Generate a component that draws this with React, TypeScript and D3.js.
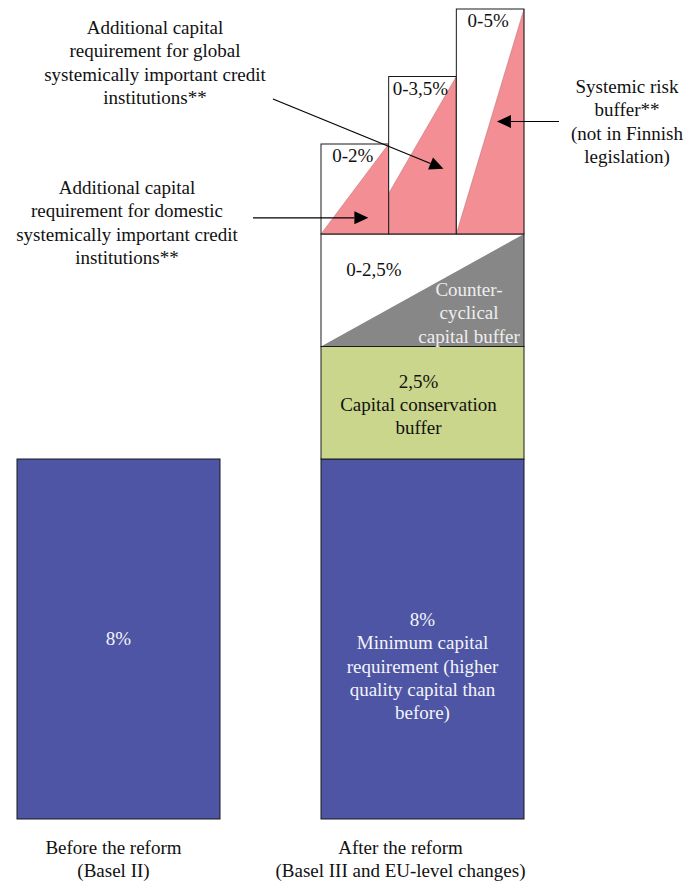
import React from 'react';
import * as d3 from 'd3';

// bars
const categories = ['Before the reform', 'After the reform'];
const categorySub = ['(Basel II)', '(Basel III and EU-level changes)'];
const minimumCapital = [8, 8];
const minimumLabels = [['8%'], ['8%', 'Minimum capital', 'requirement (higher', 'quality capital than', 'before)']];

// buffers stacked on the "after" bar
const conservationBuffer = 2.5;
const conservationLabel = ['2,5%', 'Capital conservation', 'buffer'];
const countercyclicalBuffer = 2.5;
const countercyclicalRange = '0-2,5%';
const countercyclicalLabel = ['Counter-', 'cyclical', 'capital buffer'];

// top columns (max add-on, and the share where the pink wedge starts at the left edge)
const topColumns = ['O-SII', 'G-SII', 'SRB'];
const topMax = [2, 3.5, 5];
const topLabels = ['0-2%', '0-3,5%', '0-5%'];
const wedgeStart = [0, 0.9, 0];

const annotGlobal = ['Additional capital', 'requirement for global', 'systemically important credit', 'institutions**'];
const annotDomestic = ['Additional capital', 'requirement for domestic', 'systemically important credit', 'institutions**'];
const annotSystemic = ['Systemic risk', 'buffer**', '(not in Finnish', 'legislation)'];

const W = 687;
const H = 883;
const font = '"Liberation Serif", "Times New Roman", serif';
const fs = 19;
const lh = 23.3;

const colors = {
  blue: '#4d55a4',
  green: '#cad68b',
  grey: '#878787',
  pink: '#f28e94',
  line: '#1a1a1a',
};

const Lines: React.FC<{ lines: string[]; x: number; y: number; fill?: string }> = ({ lines, x, y, fill = '#111' }) => (
  <text x={x} y={y} textAnchor="middle" fontFamily={font} fontSize={fs} fill={fill}>
    {lines.map((l, i) => (
      <tspan key={i} x={x} dy={i === 0 ? 0 : lh}>{l}</tspan>
    ))}
  </text>
);

const Arrow: React.FC<{ x1: number; y1: number; x2: number; y2: number }> = ({ x1, y1, x2, y2 }) => {
  const a = Math.atan2(y2 - y1, x2 - x1);
  const len = 14;
  const hw = 6.5;
  const bx = x2 - len * Math.cos(a);
  const by = y2 - len * Math.sin(a);
  const px = -Math.sin(a) * hw;
  const py = Math.cos(a) * hw;
  return (
    <g>
      <line x1={x1} y1={y1} x2={bx} y2={by} stroke="#000" strokeWidth={1.2} />
      <path d={`M${x2},${y2}L${bx + px},${by + py}L${bx - px},${by - py}Z`} fill="#000" />
    </g>
  );
};

export default function App() {
  const x = d3.scaleBand<string>().domain(categories).range([17, 524]).paddingInner(101 / 304).paddingOuter(0);
  const y = d3.scaleLinear().domain([0, 18]).range([819, 9]);
  const bw = x.bandwidth();
  const ax = x(categories[1])!;
  const xt = d3.scaleBand<string>().domain(topColumns).range([ax, ax + bw]).padding(0);
  const tw = xt.bandwidth();

  const consBase = minimumCapital[1];
  const ccBase = consBase + conservationBuffer;
  const topBase = ccBase + countercyclicalBuffer;

  return (
    <svg width={W} height={H} style={{ position: 'absolute', left: 0, top: 0, display: 'block' }}>
      <rect width={W} height={H} fill="#fff" />

      {/* minimum capital bars */}
      {categories.map((c, i) => {
        const x0 = x(c)!;
        const cx = x0 + bw / 2;
        const lines = minimumLabels[i];
        const yMid = y(minimumCapital[i] / 2) + (lines.length > 1 ? -13 : 6);
        return (
          <g key={c}>
            <rect x={x0} y={y(minimumCapital[i])} width={bw} height={y(0) - y(minimumCapital[i])}
              fill={colors.blue} stroke={colors.line} strokeWidth={1} />
            <Lines lines={lines} x={cx} y={yMid} fill="#f4f4f8" />
            <Lines lines={[c, categorySub[i]]} x={cx + (i === 1 ? -22 : -5)} y={854} />
          </g>
        );
      })}

      {/* conservation buffer */}
      <rect x={ax} y={y(ccBase)} width={bw} height={y(consBase) - y(ccBase)}
        fill={colors.green} stroke={colors.line} strokeWidth={1} />
      <Lines lines={conservationLabel} x={ax + bw / 2 - 4} y={y(ccBase) + 41} />

      {/* countercyclical buffer */}
      <rect x={ax} y={y(topBase)} width={bw} height={y(ccBase) - y(topBase)} fill="#fff" />
      <path d={`M${ax},${y(ccBase)}L${ax + bw},${y(topBase)}L${ax + bw},${y(ccBase)}Z`} fill={colors.grey} />
      <rect x={ax} y={y(topBase)} width={bw} height={y(ccBase) - y(topBase)}
        fill="none" stroke={colors.line} strokeWidth={1} />
      <text x={ax + 53} y={y(topBase) + 42} textAnchor="middle" fontFamily={font} fontSize={fs} fill="#111">
        {countercyclicalRange}
      </text>
      <Lines lines={countercyclicalLabel} x={ax + bw - 55} y={y(topBase) + 62} fill="#eeeeee" />

      {/* top columns */}
      {topColumns.map((c, i) => {
        const x0 = xt(c)!;
        const x1 = x0 + tw;
        const yTop = y(topBase + topMax[i]);
        const yb = y(topBase);
        const yl = y(topBase + wedgeStart[i]);
        return (
          <g key={c}>
            <rect x={x0} y={yTop} width={tw} height={yb - yTop} fill="#fff" />
            <path d={`M${x0},${yb}L${x0},${yl}L${x1},${yTop}L${x1},${yb}Z`} fill={colors.pink}
              stroke="#b86a70" strokeWidth={0.5} />
            <rect x={x0} y={yTop} width={tw} height={yb - yTop} fill="none" stroke={colors.line} strokeWidth={1} />
            <text x={x0 + tw / 2 - 2} y={yTop + 18} textAnchor="middle" fontFamily={font} fontSize={fs} fill="#111">
              {topLabels[i]}
            </text>
          </g>
        );
      })}

      {/* annotations */}
      <Lines lines={annotGlobal} x={155} y={34} />
      <Lines lines={annotDomestic} x={127} y={194} />
      <Lines lines={annotSystemic} x={627} y={93} />

      <Arrow x1={273} y1={99} x2={xt(topColumns[1])! + tw * 0.81} y2={y(topBase + 1.45)} />
      <Arrow x1={253} y1={y(topBase + 0.36)} x2={xt(topColumns[0])! + tw * 0.7} y2={y(topBase + 0.36)} />
      <Arrow x1={559} y1={y(topBase + 2.5)} x2={xt(topColumns[2])! + tw * 0.6} y2={y(topBase + 2.5)} />
    </svg>
  );
}
